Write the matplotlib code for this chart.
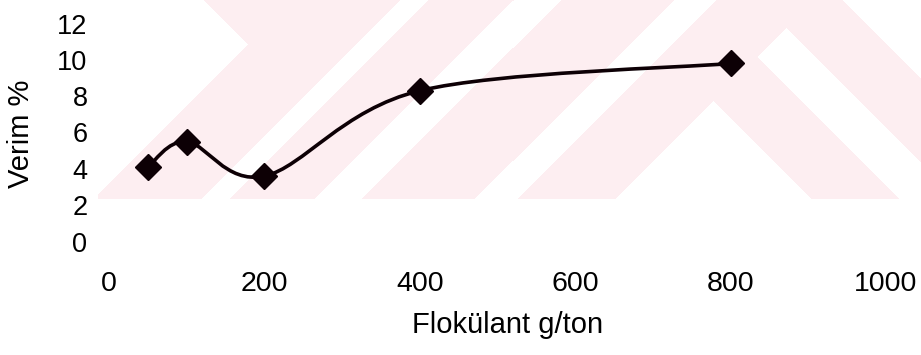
import matplotlib
matplotlib.use("Agg")
import matplotlib.pyplot as plt
import numpy as np
from matplotlib.path import Path
from matplotlib.patches import PathPatch

# Verim (%) versus flokülant dozu (g/ton)
doz = [50, 100, 200, 400, 800]
verim = [4.1, 5.5, 3.6, 8.3, 9.8]
x_ticks = [0, 200, 400, 600, 800, 1000]
y_ticks = [0, 2, 4, 6, 8, 10, 12]

LINE = "#0d0005"
PINK = "#fdeef1"
W, H = 921, 355

plt.rcParams["font.family"] = ["Liberation Sans", "DejaVu Sans"]


def smooth_path(xs, ys):
    # cubic bezier through the points, Catmull-Rom style control points
    pts = np.column_stack([xs, ys]).astype(float)
    n = len(pts)
    verts = [pts[0]]
    codes = [Path.MOVETO]
    for i in range(n - 1):
        p0 = pts[i - 1] if i > 0 else pts[i]
        p1, p2 = pts[i], pts[i + 1]
        p3 = pts[i + 2] if i + 2 < n else pts[i + 1]
        c1 = p1 + (p2 - p0) / 6.0
        c2 = p2 - (p3 - p1) / 6.0
        verts += [c1, c2, p2]
        codes += [Path.CURVE4] * 3
    return Path(verts, codes)


def watermark():
    # chevron/stripe pattern in figure pixel space (y downwards)
    py, px = np.mgrid[0:199, 98:921]
    u = px + py
    v = px - py
    white = (u < 292) & (v < 204)
    white |= (u >= 400) & (u < 428)
    white |= (u >= 513) & (u < 560)
    white |= (u >= 673) & (u < 715)
    white |= (u >= 813) & ((v < 612) | ((v >= 700) & (v < 758)) | (v >= 842))
    img = np.ones(px.shape + (3,))
    pink = np.array(matplotlib.colors.to_rgb(PINK))
    img[~white] = pink
    return img


fig = plt.figure(figsize=(W / 100, H / 100), dpi=100)

bg = fig.add_axes([0, 0, 1, 1], zorder=0)
bg.imshow(watermark(), extent=(98, 921, 199, 0), interpolation="nearest", aspect="auto")
bg.set_xlim(0, W)
bg.set_ylim(H, 0)
bg.axis("off")

left, right = 109, 886
zero_y, top_y = 241.5, 23.5
ax = fig.add_axes([left / W, 1 - zero_y / H, (right - left) / W, (zero_y - top_y) / H], zorder=1)
ax.patch.set_alpha(0)

ax.add_patch(PathPatch(smooth_path(doz, verim), facecolor="none", edgecolor=LINE,
                       linewidth=2.6, capstyle="round", joinstyle="round"))
ax.plot(doz, verim, linestyle="none", marker="D", markersize=13.5, color=LINE)

ax.set_xlim(0, 1000)
ax.set_ylim(0, 12)
ax.set_xticks(x_ticks)
ax.set_yticks(y_ticks)
ax.tick_params(axis="x", length=0, pad=21.5, labelsize=20.5, colors="black")
ax.tick_params(axis="y", length=0, pad=15.5, labelsize=19.5, colors="black")
for s in ax.spines.values():
    s.set_visible(False)

ax.set_xlabel("Flokülant g/ton", fontsize=21, va="center")
ax.xaxis.set_label_coords((507.5 - left) / (right - left), (zero_y - 325) / (zero_y - top_y))
ax.set_ylabel("Verim %", fontsize=21, va="center")
ax.yaxis.set_label_coords((21 - left) / (right - left), (zero_y - 134) / (zero_y - top_y))

fig.savefig("out.png", dpi=100, facecolor="white")
